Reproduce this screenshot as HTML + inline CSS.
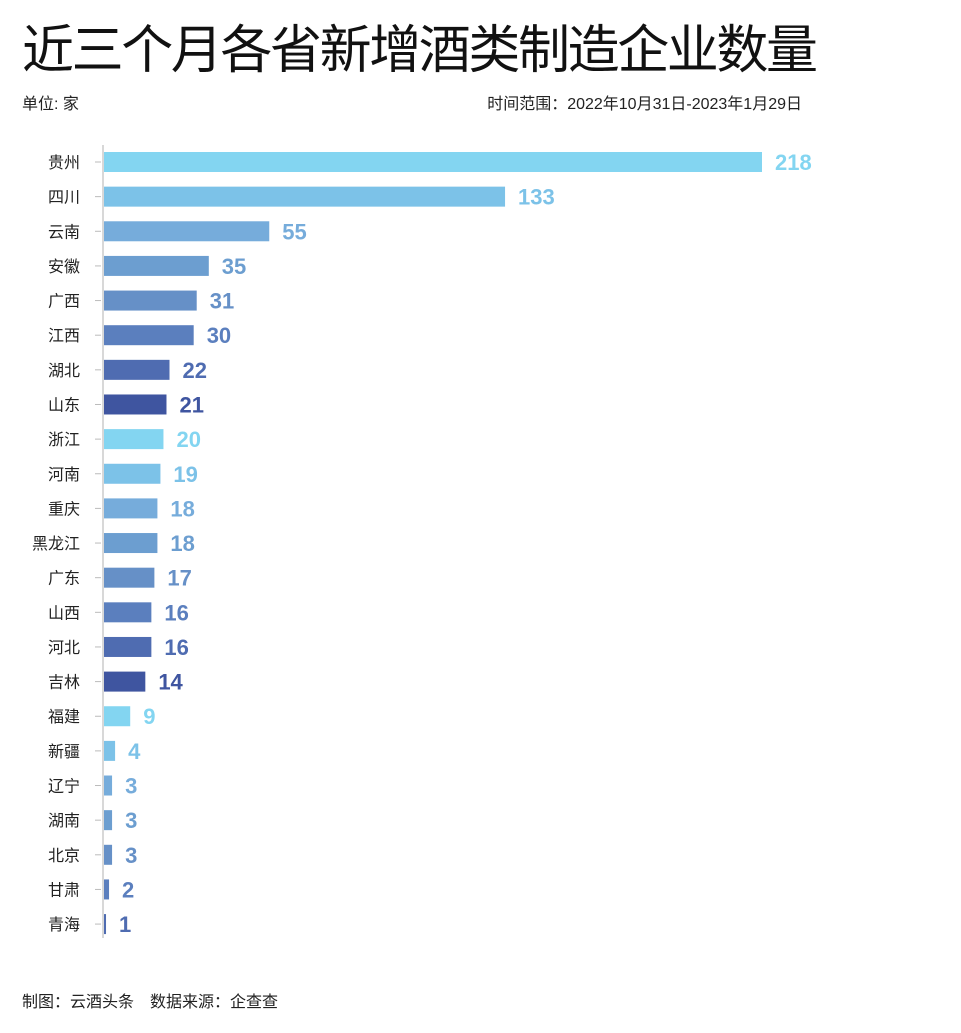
<!DOCTYPE html>
<html><head><meta charset="utf-8"><style>
body{margin:0;background:#fff;width:961px;height:1033px;overflow:hidden;font-family:"Liberation Sans","Noto Sans CJK SC",sans-serif;}
</style></head><body>
<svg width="961" height="1033" style="position:absolute;left:0;top:0">
<text x="22" y="68" font-size="52" fill="#111" textLength="796" font-family="Liberation Sans,Noto Sans CJK SC,sans-serif">近三个月各省新增酒类制造企业数量</text>
<text x="22" y="109" font-size="16" fill="#222">单位: 家</text>
<text x="802" y="109" font-size="16" fill="#222" text-anchor="end">时间范围：2022年10月31日-2023年1月29日</text>
<text x="22" y="1007" font-size="16" fill="#222">制图：云酒头条　数据来源：企查查</text>
<line x1="103" y1="145" x2="103" y2="938" stroke="#ccc" stroke-width="1.5"/>
<g id="bars"></g>
</svg>
<script>
const categories=["贵州","四川","云南","安徽","广西","江西","湖北","山东","浙江","河南","重庆","黑龙江","广东","山西","河北","吉林","福建","新疆","辽宁","湖南","北京","甘肃","青海"];
const values=[218,133,55,35,31,30,22,21,20,19,18,18,17,16,16,14,9,4,3,3,3,2,1];
const colors=["#83d5f1","#7cc2e8","#76acdb","#6c9ed0","#6690c7","#5b7fbe","#4f6cb1","#3f55a0"];
const x0=103, xs=v=>x0+v*(659/218);
const ys=i=>162+i*34.64;
const g=document.getElementById('bars');
const NS="http://www.w3.org/2000/svg";
categories.forEach((c,i)=>{
  const col=colors[i%8], y=ys(i), v=values[i];
  const t=document.createElementNS(NS,'line');
  t.setAttribute('x1',95);t.setAttribute('x2',101);t.setAttribute('y1',y);t.setAttribute('y2',y);t.setAttribute('stroke','#bbb');
  
  
  g.appendChild(t);
  const l=document.createElementNS(NS,'text');
  l.setAttribute('x',80);l.setAttribute('y',y+6);l.setAttribute('font-size','16');l.setAttribute('fill','#222');l.setAttribute('text-anchor','end');
  l.textContent=c;
  
  
  g.appendChild(l);
  const r=document.createElementNS(NS,'rect');
  r.setAttribute('x',x0+1);r.setAttribute('y',y-10);r.setAttribute('width',Math.max(2,xs(v)-x0-1));r.setAttribute('height',20);r.setAttribute('fill',col);
  
  
  g.appendChild(r);
  const vt=document.createElementNS(NS,'text');
  vt.setAttribute('x',xs(v)+13);vt.setAttribute('y',y+8);vt.setAttribute('font-size','22');vt.setAttribute('font-weight','bold');vt.setAttribute('fill',col);
  vt.textContent=v;
  
  
  g.appendChild(vt);
});
</script>
</body></html>
